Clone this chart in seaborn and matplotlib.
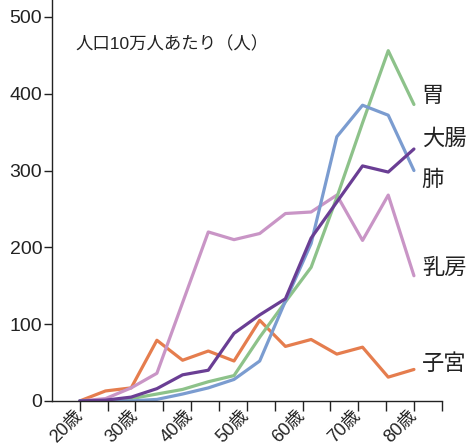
import numpy as np
import pandas as pd
import matplotlib
matplotlib.use('Agg')
from matplotlib import pyplot as plt
import seaborn as sns

# 14 age groups, drawn evenly from 20歳 to 80歳
n_points = 14
stomach = [0, 0, 3, 9, 15, 25, 33, 83, 129, 174, 265, 362, 456, 386]
colon = [0, 1, 5, 16, 34, 40, 88, 112, 133, 212, 259, 306, 298, 328]
lung = [0, 0, 0, 2, 9, 17, 28, 52, 130, 205, 344, 385, 372, 300]
breast = [0, 3, 17, 36, 128, 220, 210, 218, 244, 246, 268, 209, 268, 163]
uterus = [0, 13, 17, 79, 53, 65, 52, 105, 71, 80, 61, 70, 31, 41]

series_names = ['胃', '大腸', '肺', '乳房', '子宮']
tick_ages = [20, 30, 40, 50, 60, 70, 80]
tick_labels = ['20歳', '30歳', '40歳', '50歳', '60歳', '70歳', '80歳']

colors = {'胃': '#8dc28a', '大腸': '#6a3e94', '肺': '#7b9cd0',
          '乳房': '#c995c6', '子宮': '#e57d4e'}
# label y positions (data units) for the names at the right end
label_y = {'胃': 398, '大腸': 342, '肺': 288, '乳房': 174, '子宮': 49}

ages = 20 + np.arange(n_points) * 60 / (n_points - 1)
df = pd.DataFrame({'age': ages, '胃': stomach, '大腸': colon, '肺': lung,
                   '乳房': breast, '子宮': uterus})
long_df = df.melt(id_vars='age', var_name='site', value_name='rate')

sns.set_style('ticks')
plt.rcParams['font.family'] = ['Liberation Sans', 'Noto Sans CJK JP']

fig = plt.figure(figsize=(4.72, 4.45), dpi=100)
ax = fig.add_axes([0.110, 0.099, 0.826, 0.901])

# draw the back lines first so order matches the picture
order = ['子宮', '乳房', '胃', '肺', '大腸']
sns.lineplot(data=long_df, x='age', y='rate', hue='site', hue_order=order,
             palette=colors, linewidth=2.3, legend=False, ax=ax)

for name in series_names:
    ax.text(81.4, label_y[name], name, fontsize=16, va='center', ha='left',
            color='#222222', clip_on=False,
            family=['Noto Sans CJK JP', 'DejaVu Sans'])

ax.text(0.059, 0.89, '人口10万人あたり（人）', transform=ax.transAxes,
        fontsize=12.5, va='center', ha='left', color='#222222')

ax.set_xlim(15, 85)
ax.set_ylim(0, 522)
ax.set_xticks(np.arange(20, 86, 5))
labels = []
for a in range(20, 86, 5):
    labels.append(tick_labels[tick_ages.index(a)] if a in tick_ages else '')
ax.set_xticklabels(labels, rotation=45, ha='right', va='center',
                   rotation_mode='anchor', fontsize=13)
ax.set_yticks([0, 100, 200, 300, 400, 500])
ax.tick_params(axis='y', labelsize=14, length=6, width=1, pad=1,
               colors='#222222')
ax.tick_params(axis='x', length=7, width=1, pad=2, colors='#222222')
ax.set_xlabel('')
ax.set_ylabel('')
for s in ['left', 'bottom']:
    ax.spines[s].set_color('#222222')
    ax.spines[s].set_linewidth(1)
sns.despine(ax=ax)

plt.savefig('out.png', dpi=100)
